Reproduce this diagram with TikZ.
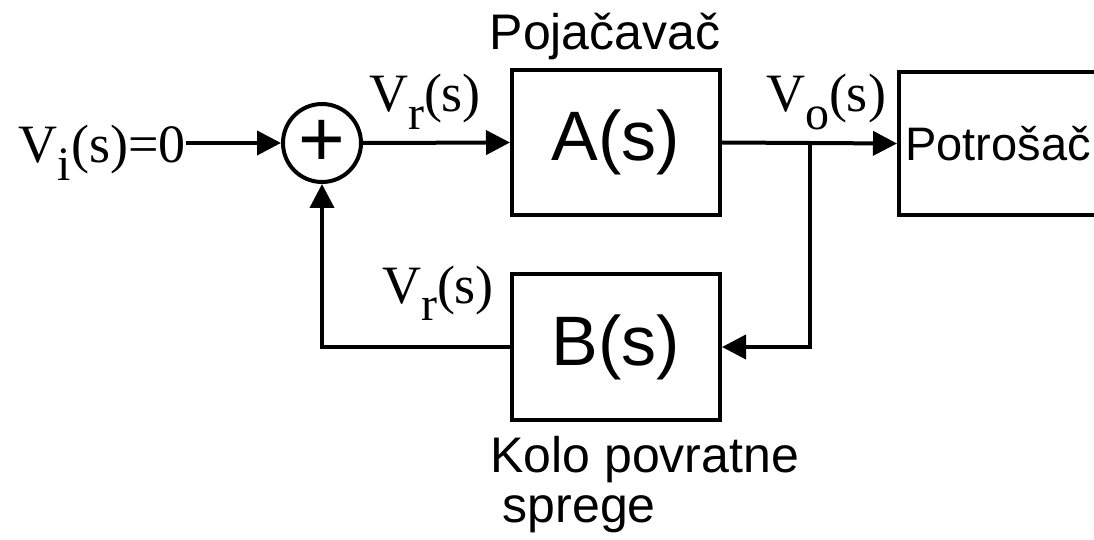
\documentclass[tikz,border=0pt]{standalone}
\usepackage{fontspec}
\setmainfont{Liberation Serif}
\setsansfont{Liberation Sans}
\usetikzlibrary{positioning,calc,arrows.meta}

% signal name with a lowered index
\newcommand{\sgn}[1]{V\raisebox{-0.33em}{\fontsize{24}{24}\selectfont #1}(s)}

\begin{document}
\begin{tikzpicture}[x=0.5pt, y=-0.5pt,
    block/.style={draw, line width=2pt, minimum width=104pt, minimum height=72.5pt, inner sep=0pt, font=\sffamily\fontsize{35}{35}\selectfont},
    sumnode/.style={draw, circle, line width=2pt, minimum size=39pt, inner sep=0pt, font=\sffamily\fontsize{40}{40}\selectfont},
    lbl/.style={inner sep=0pt, font=\fontsize{27}{27}\selectfont},
    caption/.style={inner sep=0pt, font=\sffamily\fontsize{25}{25}\selectfont},
    wire/.style={line width=2pt},
    sig/.style={wire, -{Triangle[length=12pt, width=12pt]}}]
  \useasboundingbox (0,0) rectangle (1094,540);

  % Blocks
  \node[sumnode] (sum) at (322,143) {+};
  \node[block] (amp) at (616,142.5) {A(s)};
  \node[block] (fb) at (616,347) {B(s)};
  \node[block, minimum width=99pt, minimum height=71.5pt, anchor=west, font=\sffamily\fontsize{23.5}{23.5}\selectfont] (load) at (897,143.5) {Potrošač};

  % Labels
  \node[lbl, anchor=base east] (vin) at (186,163) {\sgn{i}=0};
  \node[lbl, anchor=base] (vr) at (425,112) {\sgn{r}};
  \node[lbl, anchor=base] (vo) at (826,112) {\sgn{o}};
  \node[lbl, anchor=base] (vrb) at (438,303) {\sgn{r}};
  \node[caption, anchor=base] (ampname) at (605,50) {Pojačavač};
  \node[caption, anchor=north west, align=left] (fbname) at (490,436) {Kolo povratne\\\hspace*{0.25em}sprege};

  % Forward path
  \coordinate (tap) at ($(amp.east)!0.5!(load.west)$);
  \draw[sig] (vin.east |- sum.west) -- (sum.west);
  \draw[sig] (sum.east) -- (amp.west);
  \draw[sig] (amp.east) -- (load.west);

  % Feedback path
  \draw[sig] (tap) |- (fb.east);
  \draw[sig] (fb.west) -| (sum.south);
\end{tikzpicture}
\end{document}
